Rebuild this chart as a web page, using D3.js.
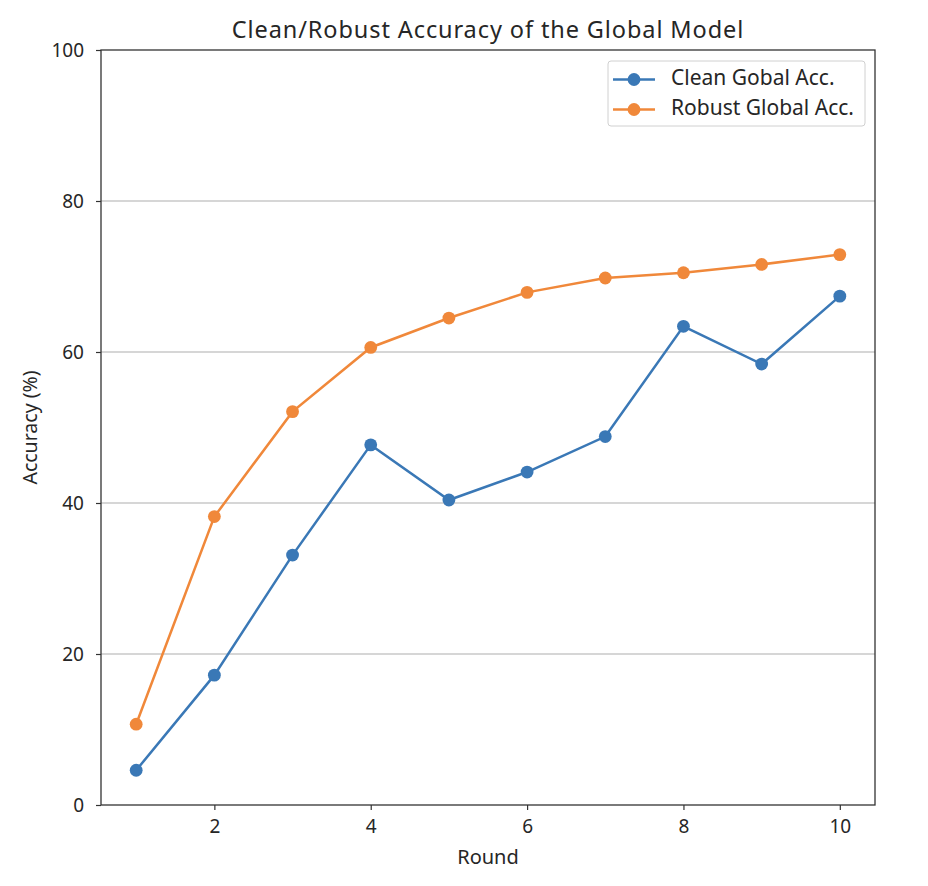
<!DOCTYPE html>
<html>
<head>
<meta charset="utf-8">
<script src="https://cdn.jsdelivr.net/npm/d3@7"></script>
<style>
  body { margin: 0; background: #fff; }
  text { font-family: "Noto Sans", "Open Sans", sans-serif; fill: #262626; }
</style>
</head>
<body>
<svg id="chart" width="928" height="886"></svg>
<script>
var rounds = [1, 2, 3, 4, 5, 6, 7, 8, 9, 10];
var cleanAcc = [4.6, 17.2, 33.1, 47.7, 40.4, 44.1, 48.8, 63.4, 58.4, 67.4];
var robustAcc = [10.7, 38.2, 52.1, 60.6, 64.5, 67.9, 69.8, 70.5, 71.6, 72.9];
var xTicks = [2, 4, 6, 8, 10];
var yTicks = [0, 20, 40, 60, 80, 100];
var seriesNames = ["Clean Gobal Acc.", "Robust Global Acc."];
var seriesColors = ["#3a78b6", "#f0883a"];

var svg = d3.select("#chart");
var plotLeft = 101, plotRight = 875, plotTop = 50, plotBottom = 805;

var x = d3.scaleLinear().domain([0.55, 10.45]).range([plotLeft, plotRight]);
var y = d3.scaleLinear().domain([0, 100]).range([plotBottom, plotTop]);

// horizontal grid
svg.append("g").selectAll("line").data(yTicks.filter(d => d > 0 && d < 100)).join("line")
  .attr("x1", plotLeft).attr("x2", plotRight)
  .attr("y1", d => y(d)).attr("y2", d => y(d))
  .attr("stroke", "#c8c8c8").attr("stroke-width", 1.3);

// axes
var xAxis = svg.append("g").attr("transform", "translate(0," + plotBottom + ")")
  .call(d3.axisBottom(x).tickValues(xTicks).tickSize(5).tickPadding(10));
var yAxis = svg.append("g").attr("transform", "translate(" + plotLeft + ",0)")
  .call(d3.axisLeft(y).tickValues(yTicks).tickSize(5).tickPadding(12));
[xAxis, yAxis].forEach(function (g) {
  g.select(".domain").remove();
  g.selectAll("line").attr("stroke", "#333").attr("stroke-width", 1.2);
  g.selectAll("text").style("font-size", "19px").attr("fill", "#262626");
});

// frame
svg.append("rect").attr("x", plotLeft).attr("y", plotTop)
  .attr("width", plotRight - plotLeft).attr("height", plotBottom - plotTop)
  .attr("fill", "none").attr("stroke", "#333").attr("stroke-width", 1.3);

// lines
var line = d3.line().x((d, i) => x(rounds[i])).y(d => y(d));
[cleanAcc, robustAcc].forEach(function (vals, k) {
  svg.append("path").datum(vals).attr("d", line)
    .attr("fill", "none").attr("stroke", seriesColors[k]).attr("stroke-width", 2.5);
  svg.append("g").selectAll("circle").data(vals).join("circle")
    .attr("cx", (d, i) => x(rounds[i])).attr("cy", d => y(d))
    .attr("r", 6.4).attr("fill", seriesColors[k]);
});

// title and labels
svg.append("text").attr("x", (plotLeft + plotRight) / 2).attr("y", 38)
  .attr("text-anchor", "middle").style("font-size", "23.5px").style("letter-spacing", "0.9px")
  .text("Clean/Robust Accuracy of the Global Model");
svg.append("text").attr("x", (plotLeft + plotRight) / 2).attr("y", 864)
  .attr("text-anchor", "middle").style("font-size", "20px").text("Round");
svg.append("text").attr("transform", "translate(37," + ((plotTop + plotBottom) / 2) + ") rotate(-90)")
  .attr("text-anchor", "middle").style("font-size", "19.5px").text("Accuracy (%)");

// legend
var lg = svg.append("g").attr("transform", "translate(608,61)");
lg.append("rect").attr("width", 257).attr("height", 65).attr("rx", 3)
  .attr("fill", "#fff").attr("fill-opacity", 0.8).attr("stroke", "#d0d0d0");
seriesNames.forEach(function (name, k) {
  var yy = 18.5 + k * 30;
  lg.append("line").attr("x1", 5).attr("x2", 47).attr("y1", yy).attr("y2", yy)
    .attr("stroke", seriesColors[k]).attr("stroke-width", 2.5);
  lg.append("circle").attr("cx", 26).attr("cy", yy).attr("r", 6.4).attr("fill", seriesColors[k]);
  lg.append("text").attr("x", 63).attr("y", yy + 5.5).style("font-size", "21px").text(name);
});
</script>
</body>
</html>
